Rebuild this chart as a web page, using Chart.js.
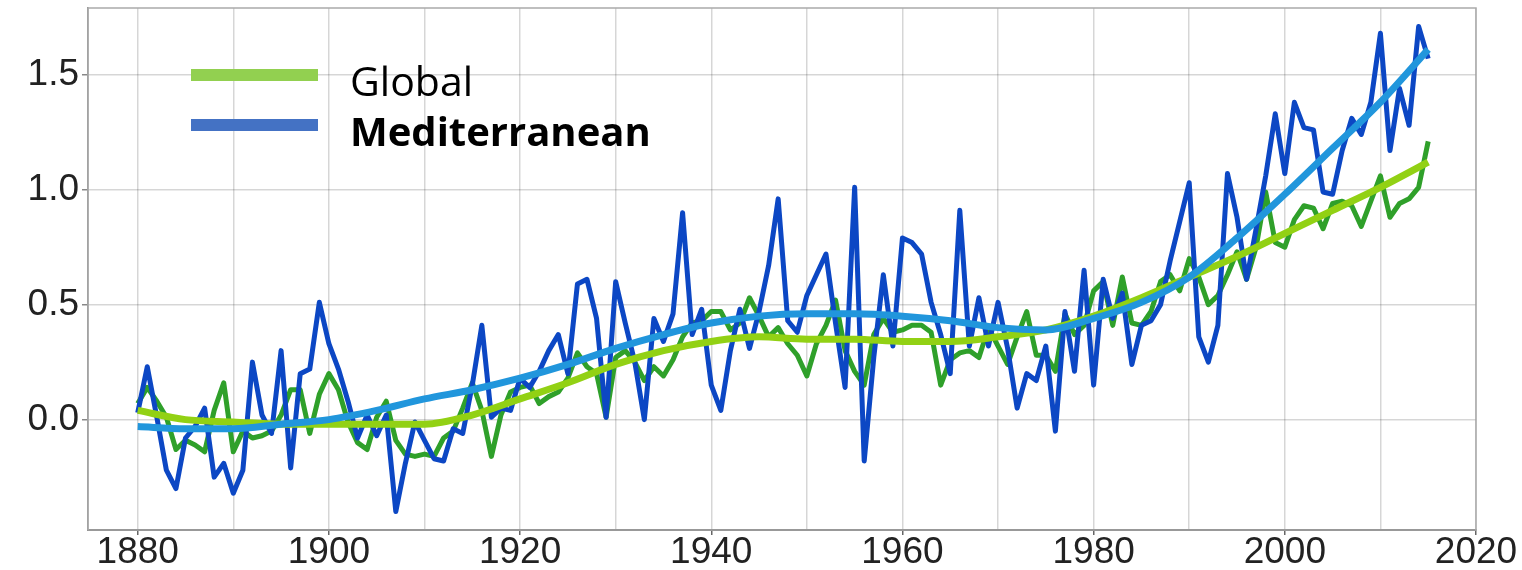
<!DOCTYPE html>
<html>
<head>
<meta charset="utf-8">
<script src="https://cdn.jsdelivr.net/npm/chart.js@4.4.1/dist/chart.umd.min.js"></script>
<style>
  html, body { margin: 0; padding: 0; background: #fff; }
  #wrap { width: 1522px; height: 570px; position: relative; }
</style>
</head>
<body>
<div id="wrap"><canvas id="temp-chart"></canvas></div>
<script>
// annual anomalies, one value per year starting at firstYear
var firstYear = 1880;

var globalValues = [
    0.07, 0.14, 0.08, 0.01, -0.13, -0.09, -0.11, -0.14, 0.04, 0.16,
    -0.14, -0.05, -0.08, -0.07, -0.05, 0.02, 0.13, 0.13, -0.06, 0.11,
    0.20, 0.13, -0.01, -0.10, -0.13, 0.01, 0.08, -0.09, -0.15, -0.16,
    -0.15, -0.16, -0.08, -0.05, 0.05, 0.16, 0.04, -0.16, 0.02, 0.12,
    0.14, 0.15, 0.07, 0.10, 0.12, 0.18, 0.29, 0.23, 0.20, 0.01,
    0.27, 0.30, 0.25, 0.17, 0.23, 0.19, 0.26, 0.36, 0.42, 0.43,
    0.47, 0.47, 0.39, 0.42, 0.53, 0.45, 0.36, 0.40, 0.33, 0.28,
    0.19, 0.33, 0.41, 0.52, 0.30, 0.21, 0.15, 0.37, 0.44, 0.38,
    0.39, 0.41, 0.41, 0.38, 0.15, 0.26, 0.29, 0.30, 0.27, 0.40,
    0.32, 0.24, 0.36, 0.47, 0.28, 0.28, 0.21, 0.46, 0.37, 0.41,
    0.56, 0.60, 0.41, 0.62, 0.42, 0.41, 0.47, 0.60, 0.63, 0.56,
    0.70, 0.62, 0.50, 0.54, 0.63, 0.73, 0.61, 0.75, 0.99, 0.77,
    0.75, 0.87, 0.93, 0.92, 0.83, 0.94, 0.95, 0.93, 0.84, 0.95,
    1.06, 0.88, 0.94, 0.96, 1.01, 1.21
];

var medValues = [
    0.03, 0.23, 0.01, -0.22, -0.30, -0.08, -0.03, 0.05, -0.25, -0.19,
    -0.32, -0.22, 0.25, 0.02, -0.06, 0.30, -0.21, 0.20, 0.22, 0.51,
    0.33, 0.22, 0.08, -0.08, 0.02, -0.07, 0.02, -0.40, -0.19, -0.01,
    -0.09, -0.17, -0.18, -0.04, -0.06, 0.15, 0.41, 0.01, 0.05, 0.04,
    0.18, 0.14, 0.21, 0.30, 0.37, 0.20, 0.59, 0.61, 0.44, 0.01,
    0.60, 0.42, 0.25, 0.00, 0.44, 0.34, 0.46, 0.90, 0.37, 0.48,
    0.15, 0.04, 0.30, 0.48, 0.31, 0.47, 0.67, 0.96, 0.43, 0.38,
    0.54, 0.63, 0.72, 0.42, 0.14, 1.01, -0.18, 0.27, 0.63, 0.32,
    0.79, 0.77, 0.72, 0.51, 0.37, 0.20, 0.91, 0.32, 0.53, 0.32,
    0.51, 0.31, 0.05, 0.20, 0.17, 0.32, -0.05, 0.47, 0.21, 0.65,
    0.15, 0.61, 0.44, 0.55, 0.24, 0.41, 0.43, 0.50, 0.69, 0.86,
    1.03, 0.36, 0.25, 0.41, 1.07, 0.88, 0.61, 0.83, 1.06, 1.33,
    1.07, 1.38, 1.27, 1.26, 0.99, 0.98, 1.17, 1.31, 1.24, 1.38,
    1.68, 1.17, 1.44, 1.28, 1.71, 1.57
];

// smoothed trends, read every 5 years
var trendYears = [1880, 1885, 1890, 1895, 1900, 1905, 1910, 1915, 1920, 1925,
    1930, 1935, 1940, 1945, 1950, 1955, 1960, 1965, 1970, 1975,
    1980, 1985, 1990, 1995, 2000, 2005, 2010, 2015];
var globalTrend = [0.04, 0.00, -0.01, -0.02, -0.02, -0.02, -0.02, 0.02, 0.09, 0.16,
    0.24, 0.30, 0.34, 0.36, 0.35, 0.35, 0.34, 0.34, 0.36, 0.39,
    0.45, 0.53, 0.62, 0.71, 0.81, 0.91, 1.01, 1.12];
var medTrend = [-0.03, -0.04, -0.04, -0.02, 0.00, 0.04, 0.09, 0.13, 0.18, 0.24,
    0.31, 0.37, 0.42, 0.45, 0.46, 0.46, 0.45, 0.43, 0.40, 0.39,
    0.44, 0.51, 0.62, 0.79, 0.98, 1.18, 1.38, 1.61];

var legendLabels = ['Global', 'Mediterranean'];

function annual(vals) {
    return vals.map(function (v, i) { return { x: firstYear + i, y: v }; });
}
function trend(vals) {
    return vals.map(function (v, i) { return { x: trendYears[i], y: v }; });
}

// frame round the plot and the legend in the top-left corner
var frameAndLegend = {
    id: 'frameAndLegend',
    beforeDatasetsDraw: function (chart) {
        var a = chart.chartArea, ctx = chart.ctx;
        ctx.save();
        ctx.strokeStyle = '#aaaaaa';
        ctx.lineWidth = 1.5;
        ctx.strokeRect(a.left, a.top, a.right - a.left, a.bottom - a.top);
        ctx.restore();
    },
    afterDraw: function (chart) {
        var ctx = chart.ctx;
        ctx.save();
        ctx.fillStyle = '#92d050';
        ctx.fillRect(191, 69, 127, 12);
        ctx.fillStyle = '#4472c4';
        ctx.fillRect(191, 119, 127, 12);
        ctx.fillStyle = '#000';
        ctx.textBaseline = 'alphabetic';
        ctx.font = '41px "Open Sans"';
        ctx.fillText(legendLabels[0], 350, 96);
        ctx.font = 'bold 40px "Open Sans"';
        ctx.fillText(legendLabels[1], 350, 146);
        ctx.restore();
    }
};

var chart = document.getElementById('temp-chart');

var temp_chart = new Chart(chart, {
    type: 'line',
    data: {
        datasets: [
            {
                label: 'Mediterranean trend',
                data: trend(medTrend),
                borderColor: '#2196dc',
                borderWidth: 7,
                pointRadius: 0,
                tension: 0.4,
                cubicInterpolationMode: 'monotone'
            },
            {
                label: 'Global trend',
                data: trend(globalTrend),
                borderColor: '#92d114',
                borderWidth: 7,
                pointRadius: 0,
                tension: 0.4,
                cubicInterpolationMode: 'monotone'
            },
            {
                label: 'Mediterranean',
                data: annual(medValues),
                borderColor: '#0c47c4',
                borderWidth: 5,
                pointRadius: 0,
                borderJoinStyle: 'round'
            },
            {
                label: 'Global',
                data: annual(globalValues),
                borderColor: '#2fa02a',
                borderWidth: 5,
                pointRadius: 0,
                borderJoinStyle: 'round'
            }
        ]
    },
    options: {
        responsive: true,
        maintainAspectRatio: false,
        animation: false,
        layout: { padding: { top: 8, right: 46, left: 0, bottom: 0 } },
        plugins: {
            legend: { display: false },
            tooltip: { enabled: false }
        },
        scales: {
            x: {
                type: 'linear',
                min: 1874.8,
                max: 2020,
                afterFit: function (scale) {
                    scale.height = 40;
                    scale.paddingLeft = 0;
                    scale.paddingRight = 0;
                },
                border: { color: '#666', width: 2 },
                grid: {
                    color: 'rgba(0,0,0,0.16)',
                    lineWidth: 1.5,
                    tickLength: 5,
                    tickColor: function (c) { return c.tick && c.tick.value % 20 === 0 ? '#666' : 'rgba(0,0,0,0)'; }
                },
                ticks: {
                    stepSize: 10,
                    maxTicksLimit: 20,
                    includeBounds: false,
                    autoSkip: false,
                    maxRotation: 0,
                    padding: -4,
                    color: '#222',
                    font: { family: '"Liberation Sans", Arial, sans-serif', size: 37 },
                    callback: function (v) { return v % 20 === 0 ? String(v) : ''; }
                }
            },
            y: {
                min: -0.48,
                max: 1.79,
                afterFit: function (scale) {
                    scale.width = 88;
                    scale.paddingTop = 0;
                    scale.paddingBottom = 0;
                },
                border: { color: '#888', width: 1.5 },
                grid: {
                    color: 'rgba(0,0,0,0.16)',
                    lineWidth: 1.5,
                    tickLength: 6,
                    tickColor: '#888'
                },
                ticks: {
                    stepSize: 0.5,
                    includeBounds: false,
                    padding: 3,
                    color: '#222',
                    font: { family: '"Liberation Sans", Arial, sans-serif', size: 37 },
                    callback: function (v) { return v.toFixed(1); }
                }
            }
        }
    },
    plugins: [frameAndLegend]
});
</script>
</body>
</html>
